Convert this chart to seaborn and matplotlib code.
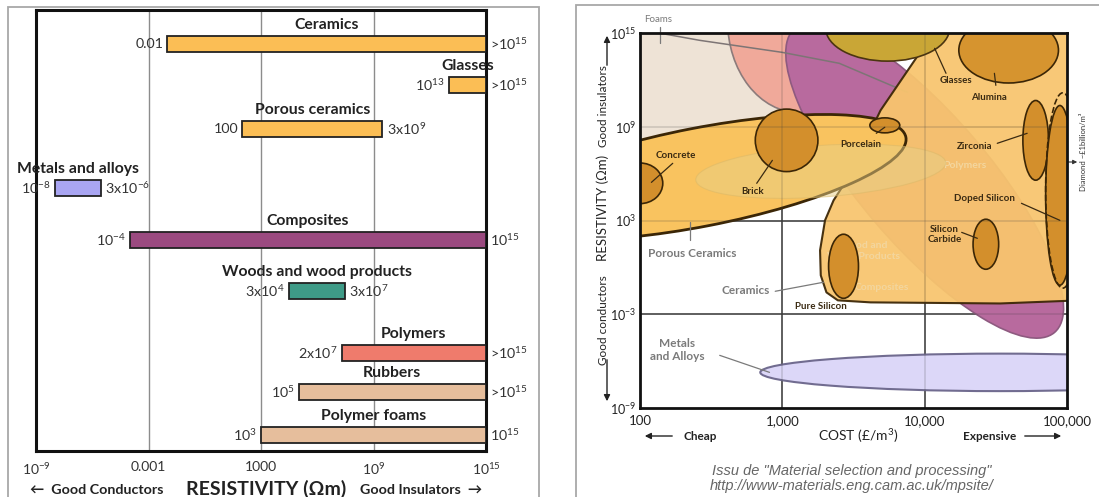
import numpy as np
import matplotlib
matplotlib.use("Agg")
import matplotlib.pyplot as plt
import seaborn as sns
from matplotlib.patches import Ellipse, Polygon, Rectangle
from matplotlib.transforms import Affine2D

sns.set_style("white")
plt.rcParams["font.family"] = ["Lato", "DejaVu Sans"]
plt.rcParams["mathtext.fontset"] = "custom"
plt.rcParams["mathtext.rm"] = "Lato"
plt.rcParams["mathtext.it"] = "Lato:italic"
plt.rcParams["mathtext.bf"] = "Lato:bold"

# ---------------- left chart : resistivity ranges (ohm.m)
materials = ["Ceramics", "Glasses", "Porous ceramics", "Metals and alloys", "Composites",
             "Woods and wood products", "Polymers", "Rubbers", "Polymer foams"]
res_low = [1e-2, 1e13, 1e2, 1e-8, 1e-4, 3e4, 2e7, 1e5, 1e3]
res_high = [1e15, 1e15, 3e9, 3e-6, 1e15, 3e7, 1e15, 1e15, 1e15]
low_text = ["0.01", "$10^{13}$", "100", "$10^{-8}$", "$10^{-4}$", "3x$10^{4}$",
            "2x$10^{7}$", "$10^{5}$", "$10^{3}$"]
high_text = [">$10^{15}$", ">$10^{15}$", "3x$10^{9}$", "3x$10^{-6}$", "$10^{15}$",
             "3x$10^{7}$", ">$10^{15}$", ">$10^{15}$", "$10^{15}$"]
res_ticks = [1e-9, 1e-3, 1e3, 1e9, 1e15]
res_tick_labels = ["$10^{-9}$", "0.001", "1000", "$10^{9}$", "$10^{15}$"]

bar_colors = ["#FBBE55", "#FBBE55", "#FBBE55", "#A9A5F2", "#9B4A80",
              "#3E9B87", "#EF7B6C", "#E6BE9C", "#E6BE9C"]
row_gap = [34, 41, 44, 59, 52, 51, 62, 39, 43]   # layout of the rows (px)

# ---------------- right chart : cost vs resistivity (log10 units)
cost_ticks = [2, 3, 4, 5]
cost_tick_labels = ["100", "1,000", "10,000", "100,000"]
res_ticks2 = [-9, -3, 3, 9, 15]
res_tick_labels2 = ["$10^{-9}$", "$10^{-3}$", "$10^{3}$", "$10^{9}$", "$10^{15}$"]

bubble_names = ["Foams", "Polymers", "Composites", "Glasses", "Alumina", "Porous Ceramics",
                "Woods", "Concrete", "Brick", "Porcelain", "Zirconia", "Silicon Carbide",
                "Pure Silicon", "Doped Silicon", "Diamond", "Metals and Alloys"]
log_cost_mid = [2.35, 3.12, 4.00, 3.74, 4.59, 2.42, 3.27, 2.00, 3.03, 3.72, 4.78, 4.43,
                3.43, 4.95, 4.97, 4.53]
log_res_mid = [14.5, 15.8, 5.57, 15.3, 13.9, 5.77, 6.15, 5.38, 8.13, 9.09, 8.13, 1.48,
               0.07, 4.61, 4.92, -6.72]
cost_span = [2.25, 1.01, 2.81, 0.87, 0.70, 2.95, 1.76, 0.32, 0.44, 0.21, 0.18, 0.18,
             0.21, 0.20, 0.24, 3.37]
res_span = [16.6, 11.8, 8.3, 4.2, 4.2, 6.3, 3.3, 2.6, 4.0, 0.96, 5.1, 3.2,
            4.1, 11.5, 12.5, 2.4]
tilt = [0, 0, -49.5, 0, 0, 11, 4, 0, 0, 0, 0, 0, 0, 0, 0, 0]

# ceramics envelope (log10 cost, log10 resistivity)
ceram_cost = [4.12, 3.69, 3.46, 3.36, 3.30, 3.265, 3.27, 3.31, 3.39, 3.62, 4.53, 5.09, 5.09]
ceram_res = [15.8, 10.05, 5.7, 4.29, 3.01, 1.09, -0.51, -1.60, -2.11, -2.24, -2.31, -2.11, 15.8]
# faint polymer outline crossing the top
poly_edge_cost = [1.95, 2.42, 3.0, 3.4, 3.88]
poly_edge_res = [15.3, 14.53, 13.76, 13.06, 11.2]

face = ["#EEE3D6", "#F0A99A", "#B86A9E", "#C9A636", "#D6942F", "#F9C35F",
        "#E8CF86", "#D38F2C", "#D38F2C", "#D38F2C", "#D38F2C", "#D38F2C",
        "#D38F2C", "#D38F2C", "none", "#DCD7F8"]
edge = ["#8a8a8a", "#8c7b7b", "#8e5a80", "#4b3510", "#3b2606", "#3b2606",
        "#D9B868", "#3b2606", "#3b2606", "#3b2606", "#3b2606", "#3b2606",
        "#3b2606", "#3b2606", "#3b2606", "#716c90"]
lw = [1.2, 1.2, 1.2, 1.2, 1.2, 2.0, 0.8, 1.2, 1.2, 1.2, 1.2, 1.2, 1.2, 1.2, 1.2, 1.5]
zo = [1, 2, 3, 5, 5, 6, 6.5, 7, 7, 7, 7, 7, 7, 7, 8, 7]
alph = [1, 1, 1, 1, 1, 1, 0.5, 1, 1, 1, 1, 1, 1, 1, 1, 1]

W, H = 1099, 497
fig = plt.figure(figsize=(W / 100, H / 100), dpi=100)


def box(x0, y0, x1, y1):
    return [x0 / W, 1 - y1 / H, (x1 - x0) / W, (y1 - y0) / H]


# panel frames
for x0, y0, x1 in [(8, 7, 539), (576, 5, 1110)]:
    fig.add_artist(Rectangle((x0 / W, -0.1), (x1 - x0) / W, 1.1 - y0 / H, transform=fig.transFigure,
                             fill=False, edgecolor="#a8a8a8", linewidth=1.3))

# ======================= left chart
ax1 = fig.add_axes(box(36, 10, 486, 451))
ax1.set_xscale("log")
ax1.set_xlim(1e-9, 1e15)
ax1.set_ylim(441, 0)
rows = np.cumsum(row_gap)
for x in res_ticks[1:-1]:
    ax1.axvline(x, color="#8c8c8c", lw=1, zorder=1)
for i, name in enumerate(materials):
    lo, hi = res_low[i], res_high[i]
    ax1.barh(rows[i], hi - lo, left=lo, height=16, color=bar_colors[i],
             edgecolor="#222222", linewidth=1.3, zorder=3)
    ax1.text(np.sqrt(lo * hi), rows[i] - 19, name, ha="center", va="center",
             fontsize=11.3, fontweight="bold", color="#222222", zorder=4)
    ax1.text(lo * 10 ** -0.22, rows[i], low_text[i], ha="right", va="center",
             fontsize=10.3, color="#333333")
    ax1.text(hi * 10 ** 0.22, rows[i], high_text[i], ha="left", va="center",
             fontsize=10.3, color="#333333", clip_on=False)
ax1.set_xticks(res_ticks, res_tick_labels)
ax1.minorticks_off()
ax1.set_yticks([])
ax1.tick_params(axis="x", direction="out", length=4, width=1, labelsize=10,
                colors="#111111", labelcolor="#333333", pad=3)
for s in ax1.spines.values():
    s.set_visible(True)
    s.set_color("#111111")
    s.set_linewidth(2.2)

fig.text(30 / W, 1 - 490 / H, "\u2190  Good Conductors", ha="left", va="center",
         fontsize=10.3, fontweight="bold", color="#222222")
fig.text(266 / W, 1 - 489 / H, "RESISTIVITY (\u03a9m)", ha="center", va="center",
         fontsize=14, fontweight="bold", color="#222222")
fig.text(360 / W, 1 - 490 / H, "Good Insulators  \u2192", ha="left", va="center",
         fontsize=10.3, fontweight="bold", color="#222222")

# ======================= right chart
ax2 = fig.add_axes(box(640, 33, 1067, 408))
ax2.set_xlim(2, 5)
ax2.set_ylim(-9, 15)
pos = ax2.get_position()
k = (pos.height * H / 24) / (pos.width * W / 3)
vis = Affine2D().scale(1, 1 / k) + ax2.transData

for i in range(len(bubble_names)):
    e = Ellipse((log_cost_mid[i], log_res_mid[i] * k), cost_span[i], res_span[i] * k,
                angle=tilt[i], transform=vis, facecolor=face[i], edgecolor=edge[i],
                linewidth=lw[i], zorder=zo[i], alpha=alph[i],
                linestyle="--" if bubble_names[i] == "Diamond" else "-")
    ax2.add_patch(e)

ax2.add_patch(Polygon(np.column_stack([ceram_cost, ceram_res]), closed=True,
                      facecolor="#F8C56E", edgecolor="#3b2606", linewidth=1.5,
                      alpha=0.94, zorder=4, joinstyle="round"))
ax2.plot(poly_edge_cost, poly_edge_res, color="#7d7575", lw=1.1, zorder=3.5)

# grid: solid beneath, faint through the fills
for z, a in [(0.5, 1.0), (20, 0.2)]:
    for x in [3, 4]:
        ax2.axvline(x, color="#3c3c3c", lw=1.1, alpha=a, zorder=z)
    for y in [-3, 3, 9]:
        ax2.axhline(y, color="#3c3c3c", lw=1.1, alpha=a, zorder=z)

# faint labels of regions hidden below the ceramics
faint = dict(color="#F3D69E", fontsize=7.5, fontweight="bold", ha="center", va="center", zorder=4.5)
ax2.text(4.28, 6.54, "Polymers", **faint)
ax2.text(3.57, 1.04, "Wood and\nWood Products", linespacing=1.3, **faint)
ax2.text(3.70, -1.28, "Composites", **faint)

dark = "#3a2a12"
grey = "#7a7a7a"
labels = [
    ("Foams", 2.13, 15.85, grey, "normal", 7, [(2.14, 15.36), (2.14, 14.34)]),
    ("Glasses", 4.22, 11.97, dark, "bold", 7, [(4.15, 12.42), (4.07, 14.02)]),
    ("Alumina", 4.45, 10.88, dark, "bold", 7, [(4.50, 11.65), (4.49, 12.42)]),
    ("Porcelain", 3.55, 7.88, dark, "bold", 7, [(3.66, 8.58), (3.72, 8.97)]),
    ("Zirconia", 4.35, 7.75, dark, "bold", 7, [(4.51, 7.94), (4.72, 8.58)]),
    ("Doped Silicon", 4.42, 4.42, dark, "bold", 7, [(4.68, 4.10), (4.95, 3.01)]),
    ("Silicon\nCarbide", 4.14, 2.11, dark, "bold", 7, [(4.26, 2.24), (4.37, 1.86)]),
    ("Concrete", 2.25, 7.17, dark, "bold", 7, [(2.23, 6.66), (2.08, 5.44)]),
    ("Brick", 2.79, 4.87, dark, "bold", 7, [(2.82, 5.38), (2.93, 6.85)]),
    ("Porous Ceramics", 2.37, 0.90, grey, "bold", 8.5, [(2.35, 2.88), (2.35, 1.73)]),
    ("Ceramics", 2.74, -1.47, grey, "bold", 8.5, [(2.95, -1.53), (3.29, -0.95)]),
    ("Pure Silicon", 3.27, -2.49, dark, "bold", 7, []),
    ("Metals\nand Alloys", 2.26, -5.31, grey, "bold", 8.5, [(2.56, -5.63), (2.91, -6.72)]),
]
for text, x, y, c, wgt, size, line in labels:
    ax2.text(x, y, text, ha="center", va="center", fontsize=size, color=c, fontweight=wgt,
             zorder=25, linespacing=1.25, clip_on=False)
    if line:
        ax2.plot([line[0][0], line[1][0]], [line[0][1], line[1][1]], color=c, lw=0.9,
                 zorder=24, clip_on=False)

ax2.set_xticks(cost_ticks, cost_tick_labels)
ax2.set_yticks(res_ticks2, res_tick_labels2)
minor_cost = [200, 300, 400, 500, 600, 700, 800, 900, 2000, 3000, 4000, 5000, 6000, 7000,
              8000, 9000, 20000, 30000, 40000, 50000, 60000, 70000, 80000, 90000]
ax2.set_xticks(np.log10(minor_cost), minor=True)
ax2.tick_params(axis="x", which="both", direction="in", length=5, width=0.9,
                colors="#111111", labelsize=9.5, labelcolor="#222222", pad=5, top=False)
ax2.tick_params(axis="y", length=0, labelsize=9, labelcolor="#222222", pad=3)
for s in ax2.spines.values():
    s.set_visible(True)
    s.set_color("#111111")
    s.set_linewidth(2)
    s.set_zorder(30)

# axis titles and arrows of the right chart
arrow = dict(arrowstyle="-|>", color="#222222", lw=1.0, mutation_scale=9)
fig.text(603 / W, 1 - 208 / H, "RESISTIVITY (\u03a9m)", rotation=90, ha="center",
         va="center", fontsize=9.5, color="#222222")
fig.text(603 / W, 1 - 106 / H, "Good insulators", rotation=90, ha="center",
         va="center", fontsize=8.5, color="#222222")
fig.text(603 / W, 1 - 320 / H, "Good conductors", rotation=90, ha="center",
         va="center", fontsize=8.5, color="#222222")
ax2.annotate("", xy=(607, H - 33), xytext=(607, H - 68), xycoords="figure pixels",
             arrowprops=arrow)
ax2.annotate("", xy=(607, H - 404), xytext=(607, H - 357), xycoords="figure pixels",
             arrowprops=arrow)
fig.text(858 / W, 1 - 436 / H, "COST (\u00a3/m$^{3}$)", ha="center", va="center",
         fontsize=10, color="#222222")
fig.text(700 / W, 1 - 436 / H, "Cheap", ha="center", va="center", fontsize=8.5,
         fontweight="bold", color="#222222")
fig.text(990 / W, 1 - 436 / H, "Expensive", ha="center", va="center", fontsize=8.5,
         fontweight="bold", color="#222222")
ax2.annotate("", xy=(642, H - 436), xytext=(675, H - 436), xycoords="figure pixels",
             arrowprops=arrow)
ax2.annotate("", xy=(1064, H - 436), xytext=(1022, H - 436), xycoords="figure pixels",
             arrowprops=arrow)
fig.text(1084 / W, 1 - 152 / H, "Diamond ~\u00a31billion/m\u00b3", rotation=90, ha="center",
         va="center", fontsize=5.5, color="#333333")
ax2.annotate("", xy=(1080, H - 162), xytext=(1062, H - 162), xycoords="figure pixels",
             arrowprops=dict(arrowstyle="-|>", color="#333333", lw=0.8, mutation_scale=6))

cap = dict(ha="center", va="center", fontsize=10.5, style="italic", color="#666666",
           family=["Liberation Sans", "DejaVu Sans"])
fig.text(852 / W, 1 - 471 / H, "Issu de \"Material selection and processing\"", **cap)
fig.text(852 / W, 1 - 486 / H, "http://www-materials.eng.cam.ac.uk/mpsite/", **cap)

fig.savefig("out.png", dpi=100)
